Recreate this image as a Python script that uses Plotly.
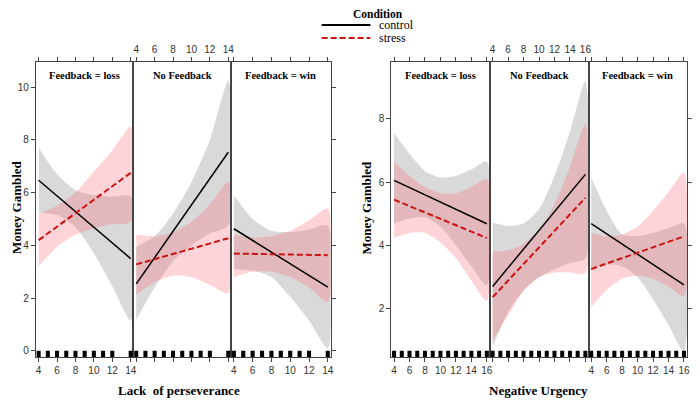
import plotly.graph_objects as go

# ---------------- data ----------------
CONDITIONS = ["control", "stress"]
FEEDBACK = ["Feedback = loss", "No Feedback", "Feedback = win"]

LP_X = [4, 6, 8, 10, 12, 14]
NU_X = [4, 6, 8, 10, 12, 14, 16]
LP_FIT_X = [4, 14]
NU_FIT_X = [4, 16]
LP_RUG = [4, 5, 6, 7, 8, 9, 10, 11, 12, 14]
NU_RUG = [4, 5, 6, 7, 8, 9, 10, 11, 12, 13, 14, 15, 16]
LP_XTICKS = [4, 6, 8, 10, 12, 14]
NU_XTICKS = [4, 6, 8, 10, 12, 14, 16]
LP_YTICKS = [0, 2, 4, 6, 8, 10]
NU_YTICKS = [2, 4, 6, 8]

# Lack of perseverance (order: loss, no feedback, win)
LP_CONTROL_FIT = [[6.47, 3.50], [2.54, 7.53], [4.63, 2.42]]
LP_CONTROL_UP = [[7.70, 6.70, 6.10, 5.90, 5.85, 5.85],
                 [3.95, 4.35, 5.20, 6.40, 8.00, 10.25],
                 [5.90, 5.00, 4.55, 4.50, 4.60, 4.75]]
LP_CONTROL_LO = [[5.25, 5.15, 4.70, 3.70, 2.45, 1.15],
                 [1.18, 2.40, 3.40, 4.00, 4.45, 4.75],
                 [3.10, 3.05, 2.80, 2.05, 1.15, 0.10]]
LP_STRESS_FIT = [[4.20, 6.75], [3.28, 4.27], [3.69, 3.63]]
LP_STRESS_UP = [[5.20, 5.50, 6.00, 6.80, 7.60, 8.50],
                [4.40, 4.35, 4.50, 4.90, 5.55, 6.40],
                [4.40, 4.30, 4.35, 4.55, 4.95, 5.40]]
LP_STRESS_LO = [[3.20, 3.95, 4.40, 4.65, 4.80, 4.90],
                [2.12, 2.60, 2.85, 2.80, 2.50, 2.20],
                [2.80, 3.00, 3.00, 2.80, 2.40, 1.85]]

# Negative urgency (order: loss, no feedback, win)
NU_CONTROL_FIT = [[6.06, 4.69], [2.71, 6.25], [4.69, 2.76]]
NU_CONTROL_UP = [[7.55, 6.90, 6.35, 6.15, 6.20, 6.40, 6.65],
                 [4.72, 4.62, 4.70, 5.15, 6.20, 7.60, 9.20],
                 [6.15, 5.10, 4.35, 4.30, 4.40, 4.55, 4.70]]
NU_CONTROL_LO = [[4.70, 4.85, 4.90, 4.60, 4.00, 3.35, 2.75],
                 [0.80, 1.90, 2.60, 3.00, 3.25, 3.45, 3.60],
                 [3.30, 3.40, 3.35, 3.00, 2.30, 1.50, 0.65]]
NU_STRESS_FIT = [[5.45, 4.24], [2.37, 5.51], [3.26, 4.29]]
NU_STRESS_UP = [[6.65, 6.20, 5.85, 5.65, 5.65, 5.85, 6.10],
                [3.82, 3.85, 4.05, 4.50, 5.30, 6.50, 7.85],
                [4.40, 4.30, 4.35, 4.60, 5.10, 5.70, 6.30]]
NU_STRESS_LO = [[4.25, 4.40, 4.40, 4.10, 3.60, 2.90, 2.25],
                [1.00, 1.80, 2.55, 3.00, 3.15, 3.15, 3.13],
                [2.05, 2.60, 2.95, 3.05, 2.95, 2.70, 2.40]]

# ---------------- style ----------------
W, H = 700, 402
OX, OY = 8, 8  # page body margin offset
PANEL_TOP, PANEL_BOTTOM = 62, 357
LEFT_PANELS_PX = [(36, 134), (134, 232), (232, 332)]
RIGHT_PANELS_PX = [(393, 492), (492, 591), (591, 690)]
LP_XRANGE = [3.7, 14.3]
LP_YRANGE = [-0.23, 10.95]
NU_XRANGE = [3.65, 16.4]
NU_YRANGE = [0.48, 9.8]

AX_COLOR = "#444444"
CONTROL_COLOR = "#000000"
STRESS_COLOR = "#cc1111"
CONTROL_FILL = "rgba(128,128,128,0.30)"
STRESS_FILL = "rgba(255,100,115,0.28)"
TICK_FONT = dict(family="Liberation Sans, Arial", size=10, color="#333333")
SERIF = "Liberation Serif, Times New Roman"


def px(xp):
    return (xp - OX) / W


def py(yp):
    return 1 - (yp - OY) / H


fig = go.Figure()
shapes = []
annotations = []
ydom = [py(PANEL_BOTTOM), py(PANEL_TOP)]


def add_band(x, up, lo, color, xa, ya):
    fig.add_trace(go.Scatter(
        x=list(x) + list(x)[::-1], y=list(up) + list(lo)[::-1],
        fill="toself", fillcolor=color, line=dict(width=0, shape="spline", smoothing=0.7),
        mode="lines", hoverinfo="skip", showlegend=False, xaxis=xa, yaxis=ya))


def build(panels_px, xs, fitx, cfit, cup, clo, sfit, sup, slo, xr, yr, xt, yt, rug, offset, rug_half):
    for p in range(3):
        i = offset + p + 1
        sfx = "" if i == 1 else str(i)
        xa, ya = "x" + sfx, "y" + sfx
        add_band(xs, cup[p], clo[p], CONTROL_FILL, xa, ya)
        add_band(xs, sup[p], slo[p], STRESS_FILL, xa, ya)
        fig.add_trace(go.Scatter(x=fitx, y=cfit[p], mode="lines",
                                 line=dict(color=CONTROL_COLOR, width=1.5),
                                 name=CONDITIONS[0], showlegend=False, xaxis=xa, yaxis=ya))
        fig.add_trace(go.Scatter(x=fitx, y=sfit[p], mode="lines",
                                 line=dict(color=STRESS_COLOR, width=2, dash="6px,3px"),
                                 name=CONDITIONS[1], showlegend=False, xaxis=xa, yaxis=ya))
        x0, x1 = panels_px[p]
        fig.layout["xaxis" + sfx] = dict(
            domain=[px(x0), px(x1)], range=xr, anchor=ya, tickvals=xt,
            showline=True, linecolor=AX_COLOR, linewidth=1, mirror="ticks",
            ticks="outside", ticklen=4, tickcolor=AX_COLOR,
            side="top" if p == 1 else "bottom", showgrid=False, zeroline=False,
            tickfont=TICK_FONT, fixedrange=True)
        fig.layout["yaxis" + sfx] = dict(
            domain=ydom, range=yr, anchor=xa, tickvals=yt,
            showline=True, linecolor=AX_COLOR, linewidth=1, mirror=True,
            ticks="" if p == 1 else "outside", ticklen=4, tickcolor=AX_COLOR,
            side="right" if p == 2 else "left", showticklabels=(p == 0),
            showgrid=False, zeroline=False, tickfont=TICK_FONT, fixedrange=True)
        for r in rug:
            shapes.append(dict(type="rect", xref=xa, yref=f"{ya} domain",
                               x0=r - rug_half, x1=r + rug_half, y0=0, y1=0.021,
                               fillcolor="black", line=dict(width=0)))
        annotations.append(dict(text=f"<b>{FEEDBACK[p]}</b>", xref=f"{xa} domain", yref=f"{ya} domain",
                                x=0.5, y=(PANEL_BOTTOM - 76) / (PANEL_BOTTOM - PANEL_TOP),
                                xanchor="center", yanchor="middle",
                                showarrow=False, font=dict(family=SERIF, size=10.5, color="black")))


build(LEFT_PANELS_PX, LP_X, LP_FIT_X, LP_CONTROL_FIT, LP_CONTROL_UP, LP_CONTROL_LO,
      LP_STRESS_FIT, LP_STRESS_UP, LP_STRESS_LO, LP_XRANGE, LP_YRANGE,
      LP_XTICKS, LP_YTICKS, LP_RUG, 0, 0.22)
build(RIGHT_PANELS_PX, NU_X, NU_FIT_X, NU_CONTROL_FIT, NU_CONTROL_UP, NU_CONTROL_LO,
      NU_STRESS_FIT, NU_STRESS_UP, NU_STRESS_LO, NU_XRANGE, NU_YRANGE,
      NU_XTICKS, NU_YTICKS, NU_RUG, 3, 0.26)

title_font = dict(family=SERIF, size=13, color="black")
annotations += [
    dict(text="<b>Money Gambled</b>", x=px(16), y=py(207), textangle=-90),
    dict(text="<b>Money Gambled</b>", x=px(368), y=py(207), textangle=-90),
    dict(text="<b>Lack  of perseverance</b>", x=px(180), y=py(390)),
    dict(text="<b>Negative Urgency</b>", x=px(541), y=py(390)),
]
for a in annotations[-4:]:
    a.update(xref="paper", yref="paper", showarrow=False, font=title_font,
             xanchor="center", yanchor="middle")

# legend (drawn manually)
annotations.append(dict(text="<b>Condition</b>", x=px(380), y=py(14), xref="paper", yref="paper",
                        xanchor="center", yanchor="middle",
                        showarrow=False, font=dict(family=SERIF, size=11.5, color="black")))
for k, (cond, col, dash, wdt) in enumerate([(CONDITIONS[0], CONTROL_COLOR, "solid", 2),
                                             (CONDITIONS[1], STRESS_COLOR, "6px,3px", 2)]):
    yy = py(25 + 13 * k)
    shapes.append(dict(type="line", xref="paper", yref="paper", x0=px(323), x1=px(372),
                       y0=yy, y1=yy, line=dict(color=col, width=wdt, dash=dash)))
    annotations.append(dict(text=cond, x=px(379), y=yy, xref="paper", yref="paper",
                            xanchor="left", yanchor="middle", showarrow=False,
                            font=dict(family=SERIF, size=12, color="black")))

fig.update_layout(width=W, height=H, margin=dict(l=0, r=0, t=0, b=0),
                  paper_bgcolor="white", plot_bgcolor="white",
                  shapes=shapes, annotations=annotations, showlegend=False)
fig.write_html("out.html")
